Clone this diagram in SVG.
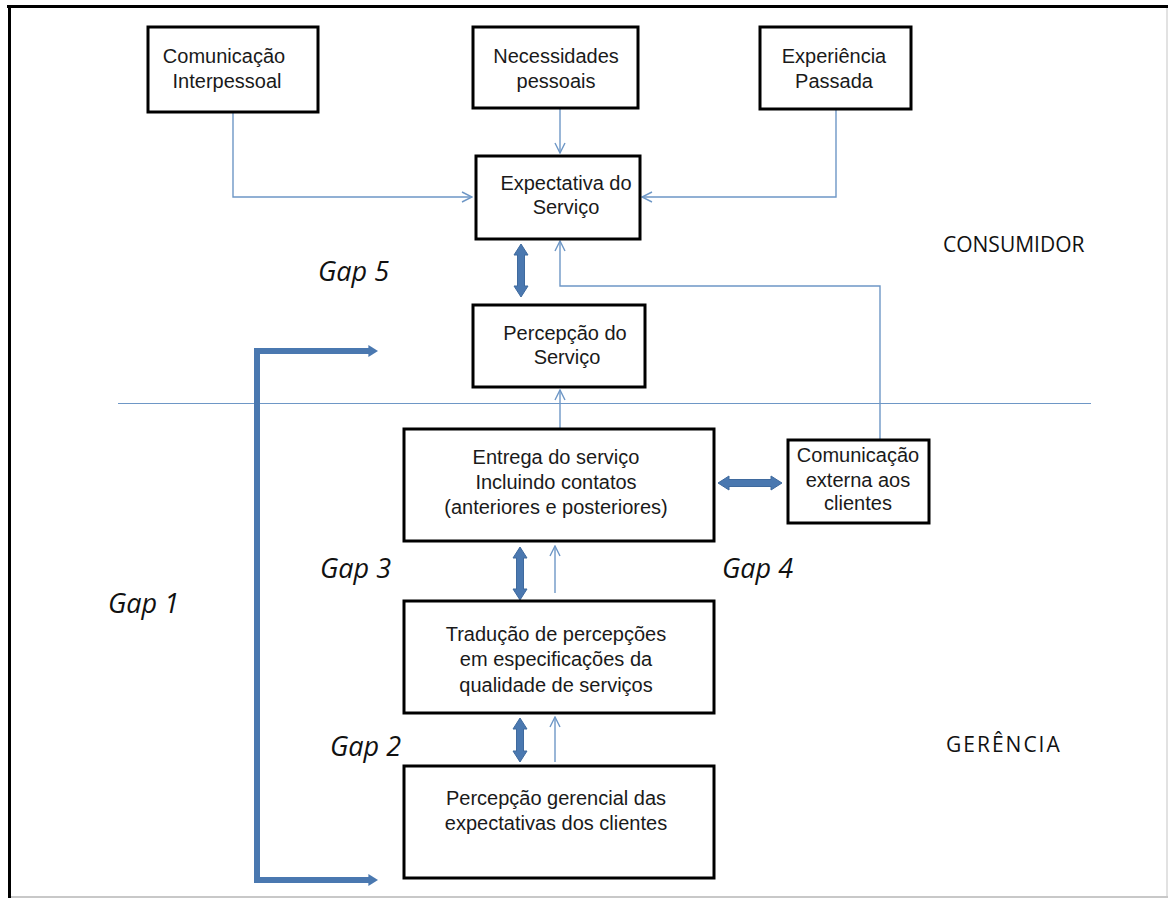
<svg xmlns="http://www.w3.org/2000/svg" width="1168" height="899" viewBox="0 0 1168 899">
<style>
.box{fill:#fff;stroke:#000;stroke-width:3}
.t{font-family:"Liberation Sans",Arial,sans-serif;font-size:20px;fill:#1a1a1a;text-anchor:middle}
.gap{font-family:"Open Sans","Liberation Sans",sans-serif;font-style:italic;font-size:27px;fill:#111}
.zone{font-family:"Open Sans","Liberation Sans",sans-serif;font-size:21px;fill:#111}
.thin{fill:none;stroke:#6E97C6;stroke-width:1.4}
.thick{fill:#4A78B0;stroke:#3F6A9E;stroke-width:1}
</style>
<defs>
<marker id="open" viewBox="0 0 12 12" refX="11" refY="6" markerWidth="12" markerHeight="12" markerUnits="userSpaceOnUse" orient="auto">
<polyline points="1,1 11,6 1,11" fill="none" stroke="#6E97C6" stroke-width="1.4"/>
</marker>
<marker id="solid" viewBox="0 0 10 10" refX="5" refY="5" markerWidth="12" markerHeight="12" markerUnits="userSpaceOnUse" orient="auto-start-reverse">
<polygon points="2,0 10,5 2,10" fill="#4A78B0"/>
</marker>
</defs>
<rect x="0" y="0" width="1168" height="899" fill="#fff"/>
<g id="frame">
<line x1="1167" y1="6" x2="1167" y2="897" stroke="#e2e2e2" stroke-width="2"/>
<line x1="9" y1="897" x2="1168" y2="897" stroke="#c8c8c8" stroke-width="2"/>
<line x1="7" y1="6.5" x2="1168" y2="6.5" stroke="#000" stroke-width="3"/>
<line x1="9.5" y1="5" x2="9.5" y2="898" stroke="#000" stroke-width="3"/>
</g>
<g id="divider"><line x1="118" y1="403.5" x2="1091" y2="403.5" stroke="#6E97C6" stroke-width="1.2"/></g>
<g id="connectors">
<path class="thin" d="M233,113 V197 H472" marker-end="url(#open)"/>
<path class="thin" d="M560,109 V153" marker-end="url(#open)"/>
<path class="thin" d="M836,110 V197 H642" marker-end="url(#open)"/>
<path class="thin" d="M880,440 V286 H560 V241" marker-end="url(#open)"/>
<path class="thin" d="M560,429 V390" marker-end="url(#open)"/>
<path class="thin" d="M555,593 V546" marker-end="url(#open)"/>
<path class="thin" d="M555,762 V717" marker-end="url(#open)"/>
<path d="M372,351 H257 V880 H372" fill="none" stroke="#4A78B0" stroke-width="6" marker-start="url(#solid)" marker-end="url(#solid)"/>
<polygon class="thick" points="521,244 528,255 524.5,255 524.5,286 528,286 521,297 514,286 517.5,286 517.5,255 514,255"/>
<polygon class="thick" points="520,547 527,558 523.5,558 523.5,589 527,589 520,600 513,589 516.5,589 516.5,558 513,558"/>
<polygon class="thick" points="520,718 527,729 523.5,729 523.5,751 527,751 520,762 513,751 516.5,751 516.5,729 513,729"/>
<polygon class="thick" points="718,483 729,476 729,479.5 771,479.5 771,476 782,483 771,490 771,486.5 729,486.5 729,490"/>
</g>
<g id="n-interpessoal"><rect class="box" x="148" y="27" width="170" height="85"/>
<text class="t" x="224" y="63">Comunicação</text><text class="t" x="227" y="88">Interpessoal</text></g>
<g id="n-necessidades"><rect class="box" x="473" y="27" width="165" height="81"/>
<text class="t" x="556" y="63">Necessidades</text><text class="t" x="556" y="88">pessoais</text></g>
<g id="n-experiencia"><rect class="box" x="760" y="27" width="151" height="82"/>
<text class="t" x="834" y="63">Experiência</text><text class="t" x="834" y="88">Passada</text></g>
<g id="n-expectativa"><rect class="box" x="476" y="156" width="164" height="83"/>
<text class="t" x="566" y="190">Expectativa do</text><text class="t" x="566" y="214">Serviço</text></g>
<g id="n-percepcao"><rect class="box" x="473" y="305" width="172" height="82"/>
<text class="t" x="565" y="340">Percepção do</text><text class="t" x="567" y="364">Serviço</text></g>
<g id="n-entrega"><rect class="box" x="404" y="429" width="310" height="112"/>
<text class="t" x="556" y="464">Entrega do serviço</text><text class="t" x="556" y="489">Incluindo  contatos</text><text class="t" x="556" y="514">(anteriores e posteriores)</text></g>
<g id="n-comext"><rect class="box" x="788" y="440" width="141" height="83"/>
<text class="t" x="858" y="462">Comunicação</text><text class="t" x="858" y="487">externa aos</text><text class="t" x="858" y="510">clientes</text></g>
<g id="n-traducao"><rect class="box" x="404" y="601" width="310" height="112"/>
<text class="t" x="556" y="641">Tradução de percepções</text><text class="t" x="556" y="666">em especificações da</text><text class="t" x="556" y="692">qualidade  de serviços</text></g>
<g id="n-gerencial"><rect class="box" x="404" y="766" width="310" height="112"/>
<text class="t" x="556" y="805">Percepção gerencial das</text><text class="t" x="556" y="830">expectativas dos clientes</text></g>
<g id="labels">
<text class="gap" x="318" y="281">Gap 5</text>
<text class="gap" x="320" y="578">Gap 3</text>
<text class="gap" x="722" y="578">Gap 4</text>
<text class="gap" x="108" y="613">Gap 1</text>
<text class="gap" x="330" y="756">Gap 2</text>
<text class="zone" x="943" y="252">CONSUMIDOR</text>
<text class="zone" x="946" y="752" font-size="23" letter-spacing="2">GERÊNCIA</text>
</g>
</svg>
